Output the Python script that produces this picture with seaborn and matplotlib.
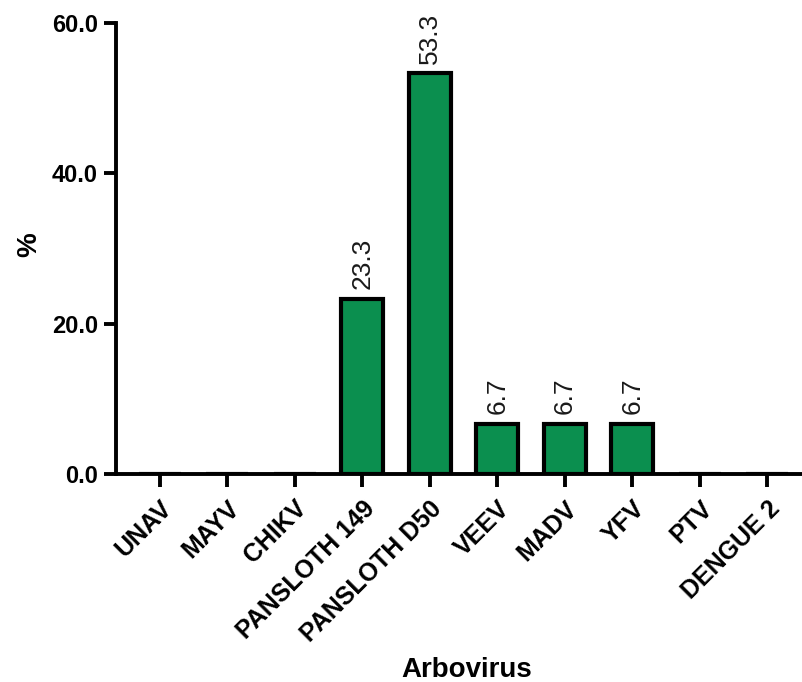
import matplotlib
matplotlib.use("Agg")
import matplotlib.pyplot as plt
import seaborn as sns
import pandas as pd

categories = ["UNAV", "MAYV", "CHIKV", "PANSLOTH 149", "PANSLOTH D50",
              "VEEV", "MADV", "YFV", "PTV", "DENGUE 2"]
values = [0.0, 0.0, 0.0, 23.3, 53.3, 6.7, 6.7, 6.7, 0.0, 0.0]
yticks = [0.0, 20.0, 40.0, 60.0]

sns.set_style("ticks")
plt.rcParams['font.family'] = ['Liberation Sans', 'DejaVu Sans']
plt.rcParams['text.color'] = 'black'
plt.rcParams['axes.labelcolor'] = 'black'
plt.rcParams['xtick.color'] = 'black'
plt.rcParams['ytick.color'] = 'black'

df = pd.DataFrame({"Arbovirus": categories, "pct": values})

fig = plt.figure(figsize=(8.03, 6.82), dpi=100)
ax = fig.add_axes([116/803, 1-474/682, (803-116)/803, (474-23)/682])

sns.barplot(data=df, x="Arbovirus", y="pct", color="#0B8F4F", saturation=1,
            width=0.62, edgecolor="black", linewidth=3.0, ax=ax)

ax.set_ylim(0, 60)
ax.set_xlim(-0.65, 9.53)
ax.set_yticks(yticks)
ax.set_yticklabels([f"{v:.1f}" for v in yticks], fontsize=17, fontweight="bold")
ax.set_xticks(range(len(categories)))
ax.set_xticklabels(categories, rotation=45, ha="right", rotation_mode="anchor",
                   fontsize=18, fontweight="bold")

labels = ["" if v == 0 else f"{v:.1f}" for v in values]
ax.bar_label(ax.containers[0], labels=labels, rotation=90, padding=7,
             fontsize=19, color="#1a1a1a")

for s in ["top", "right"]:
    ax.spines[s].set_visible(False)
for s in ["left", "bottom"]:
    ax.spines[s].set_linewidth(2.8)
    ax.spines[s].set_color("black")
ax.tick_params(axis="both", length=9, width=2.8, color="black")
ax.tick_params(axis="x", pad=7)
ax.tick_params(axis="y", pad=4)

ax.set_xlabel("Arbovirus", fontsize=20, fontweight="bold")
ax.set_ylabel("%", fontsize=20, fontweight="bold")
ax.xaxis.set_label_coords(0.511, -0.405)
ax.yaxis.set_label_coords(-0.107, 0.508)

fig.savefig("out.png", dpi=100)
